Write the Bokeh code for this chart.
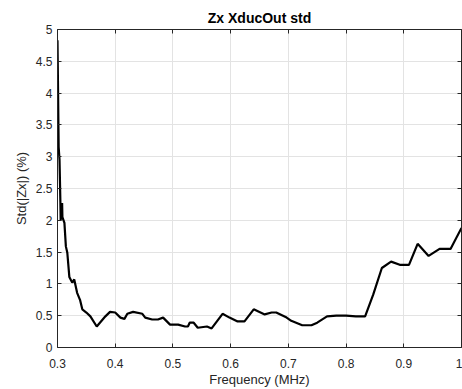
from bokeh.plotting import figure
from bokeh.models import LinearAxis, FixedTicker, Range1d
from bokeh.embed import file_html
from bokeh.resources import INLINE

freq_mhz = [0.300, 0.302, 0.3035, 0.305, 0.3055, 0.308, 0.3085, 0.312, 0.3145, 0.317,
            0.3205, 0.3255, 0.329, 0.334, 0.339, 0.343, 0.350, 0.357, 0.368, 0.383,
            0.391, 0.400, 0.409, 0.416, 0.421, 0.431, 0.447, 0.452, 0.464, 0.474,
            0.483, 0.495, 0.509, 0.521, 0.526, 0.529, 0.536, 0.543, 0.559, 0.567,
            0.586, 0.598, 0.612, 0.624, 0.640, 0.659, 0.671, 0.679, 0.697, 0.705,
            0.724, 0.740, 0.750, 0.767, 0.783, 0.800, 0.817, 0.833, 0.847, 0.862,
            0.878, 0.893, 0.909, 0.924, 0.943, 0.962, 0.981, 1.000]
std_zx_pct = [4.83, 3.15, 2.95, 2.29, 2.00, 2.27, 2.05, 1.96, 1.59, 1.49,
              1.11, 1.02, 1.07, 0.86, 0.75, 0.60, 0.55, 0.49, 0.33, 0.49,
              0.56, 0.55, 0.47, 0.45, 0.53, 0.56, 0.53, 0.47, 0.44, 0.44,
              0.47, 0.36, 0.36, 0.33, 0.33, 0.39, 0.39, 0.31, 0.33, 0.30,
              0.53, 0.47, 0.41, 0.41, 0.60, 0.52, 0.55, 0.55, 0.47, 0.42,
              0.35, 0.35, 0.39, 0.49, 0.50, 0.50, 0.49, 0.49, 0.83, 1.25,
              1.35, 1.30, 1.30, 1.63, 1.44, 1.55, 1.55, 1.88]

x_ticks = [0.3, 0.4, 0.5, 0.6, 0.7, 0.8, 0.9, 1.0]
x_tick_labels = ["0.3", "0.4", "0.5", "0.6", "0.7", "0.8", "0.9", "1"]
y_ticks = [0, 0.5, 1, 1.5, 2, 2.5, 3, 3.5, 4, 4.5, 5]
y_tick_labels = ["0", "0.5", "1", "1.5", "2", "2.5", "3", "3.5", "4", "4.5", "5"]

FONT = "Liberation Sans"
AX = "#262626"

p = figure(width=462, height=389, output_backend="svg", toolbar_location=None,
           x_range=Range1d(0.3, 1.0), y_range=Range1d(0, 5),
           title="Zx XducOut std", min_border_left=57, min_border_right=1,
           min_border_top=29, min_border_bottom=41)
p.background_fill_color = "white"
p.border_fill_color = "white"
p.outline_line_color = None

p.title.align = "center"
p.title.text_font = FONT
p.title.text_font_size = "14px"
p.title.text_font_style = "bold"
p.title.text_color = "black"
p.title.offset = 0
p.title.standoff = 7

p.line(freq_mhz, std_zx_pct, line_color="black", line_width=2.2)

def style_axis(ax, ticks, labels, show_labels=True):
    ax.ticker = FixedTicker(ticks=ticks)
    ax.minor_tick_line_color = None
    ax.major_tick_in = 4
    ax.major_tick_out = 0
    ax.axis_line_color = AX
    ax.major_tick_line_color = AX
    ax.major_label_text_font = FONT
    ax.major_label_text_color = AX
    ax.axis_label_text_font = FONT
    ax.axis_label_text_font_size = "13px"
    ax.axis_label_text_font_style = "normal"
    ax.axis_label_text_color = AX
    if show_labels:
        ax.major_label_overrides = {t: l for t, l in zip(ticks, labels)}
        ax.major_label_text_font_size = "12px"
    else:
        ax.major_label_text_font_size = "0px"
        ax.major_label_text_color = None
        ax.major_label_standoff = 0

style_axis(p.xaxis[0], x_ticks, x_tick_labels)
style_axis(p.yaxis[0], y_ticks, y_tick_labels)
p.xaxis[0].axis_label = "Frequency (MHz)"
p.yaxis[0].axis_label = "Std(|Zx|) (%)"
p.xaxis[0].major_label_standoff = 11
p.yaxis[0].major_label_standoff = 5
p.xaxis[0].axis_label_standoff = 1
p.yaxis[0].axis_label_standoff = 4

top = LinearAxis()
style_axis(top, x_ticks, x_tick_labels, show_labels=False)
p.add_layout(top, "above")
right = LinearAxis()
style_axis(right, y_ticks, y_tick_labels, show_labels=False)
p.add_layout(right, "right")

p.xgrid.ticker = FixedTicker(ticks=x_ticks)
p.ygrid.ticker = FixedTicker(ticks=y_ticks)
p.grid.grid_line_color = "#e3e3e3"
p.grid.grid_line_width = 1

open("out.html", "w").write(file_html(p, INLINE))
